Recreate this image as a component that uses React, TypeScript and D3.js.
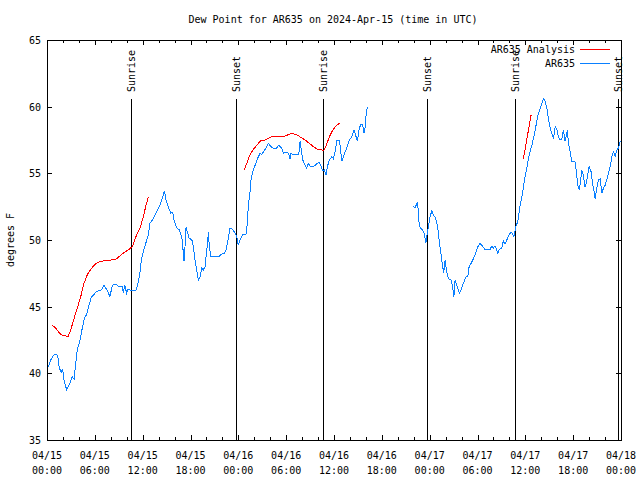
import React from "react";
import * as d3 from "d3";

const TITLE = "Dew Point for AR635 on 2024-Apr-15 (time in UTC)";
const Y_LABEL = "degrees F";
const yTicks = [35, 40, 45, 50, 55, 60, 65];
const xMajorHours = [0, 6, 12, 18, 24, 30, 36, 42, 48, 54, 60, 66, 72];
const xTickDates = ["04/15", "04/15", "04/15", "04/15", "04/16", "04/16", "04/16", "04/16", "04/17", "04/17", "04/17", "04/17", "04/18"];
const xTickTimes = ["00:00", "06:00", "12:00", "18:00", "00:00", "06:00", "12:00", "18:00", "00:00", "06:00", "12:00", "18:00", "00:00"];

const eventHours = [10.55, 23.72, 34.63, 47.72, 58.72, 71.68];
const eventLabels = ["Sunrise", "Sunset", "Sunrise", "Sunset", "Sunrise", "Sunset"];

const seriesNames = ["AR635 Analysis", "AR635"];
const seriesColors = ["#ff0000", "#0a80ff"];

// Analysis (hours since 04/15 00:00 UTC), null = gap
const anaHours = [
  0.66, 1.09, 1.51, 1.92, 2.35, 2.63, 2.97, 3.39, 3.8, 4.23, 4.64, 5.06, 5.48, 5.9, 6.31, 6.74, 7.37, 7.99, 8.62, 9.03, 9.66, 10.29, 10.7, 11.25, 11.67, 12.08, 12.42, 12.71,
  null,
  24.72, 25.06, 25.47, 25.88, 26.31, 26.81, 27.35, 27.98, 28.61, 29.23, 29.86, 30.28, 30.7, 31.33, 31.83, 32.37, 32.91, 33.41, 33.91, 34.47, 34.76, 35.09, 35.42, 35.72, 36.14, 36.68,
  null,
  59.76, 60.06, 60.39, 60.73,
];
const anaValues = [
  43.6, 43.4, 43.05, 42.85, 42.8, 42.75, 43.25, 44.1, 44.9, 45.75, 46.75, 47.4, 47.8, 48.1, 48.3, 48.4, 48.45, 48.5, 48.55, 48.75, 49.05, 49.3, 49.5, 50.4, 50.9, 51.75, 52.6, 53.2,
  null,
  55.25, 55.75, 56.4, 56.8, 57.1, 57.45, 57.5, 57.7, 57.8, 57.8, 57.8, 57.9, 58.0, 57.9, 57.7, 57.5, 57.25, 57.0, 56.8, 56.75, 56.75, 57.2, 57.75, 58.1, 58.5, 58.75,
  null,
  56.1, 57.1, 58.25, 59.4,
];

// Observations
const obsHours = [
  0.13, 0.46, 0.88, 1.22, 1.38, 1.54, 1.79, 1.97, 2.13, 2.47, 2.76, 3.17, 3.39, 3.6, 3.8, 4.14, 4.43, 4.73, 4.98, 5.27, 5.56, 5.9, 6.11, 6.52, 6.81, 7.15, 7.57, 7.9, 8.19, 8.62, 9.03, 9.45, 9.57, 9.75, 10.0, 10.16, 10.58, 11.13, 11.42, 11.67, 11.83, 12.17, 12.71, 12.92, 13.34, 13.76, 14.18, 14.52, 14.72, 14.93, 15.22, 15.52, 15.77, 15.93, 16.27, 16.6, 16.9, 17.03, 17.19, 17.31, 17.44, 17.6, 17.85, 18.16, 18.36, 18.57, 18.78, 18.98, 19.2, 19.41, 19.61, 19.82, 19.95, 20.16, 20.24, 20.36, 20.54, 21.08, 21.62, 21.92, 22.21, 22.46, 22.67, 22.96, 23.3, 23.59, 23.8, 24.0, 24.22, 24.55, 24.97, 25.13, 25.26, 25.47, 25.6, 25.81, 26.1, 26.39, 26.73, 26.94, 27.14, 27.48, 27.77, 28.07, 28.39, 28.82, 29.07, 29.45, 29.65, 29.99, 30.28, 30.49, 30.61, 30.83, 31.58, 31.74, 31.91, 32.08, 32.37, 32.58, 32.79, 33.0, 33.34, 33.63, 33.91, 34.17, 34.34, 34.59, 34.79, 35.01, 35.17, 35.42, 35.72, 35.92, 36.14, 36.35, 36.68, 36.98, 37.26, 37.6, 37.93, 38.23, 38.52, 38.77, 38.93, 39.18, 39.4, 39.61, 39.77, 39.9, 40.03, 40.19,
  null,
  45.96, 46.17, 46.39, 46.51, 46.59, 46.8, 47.09, 47.34, 47.52, 47.64, 47.84, 48.06, 48.27, 48.47, 48.77, 49.02, 49.18, 49.44, 49.6, 49.77, 49.94, 50.1, 50.35, 50.69, 50.9, 51.03, 51.19, 51.4, 51.61, 51.73, 51.94, 52.23, 52.53, 52.79, 52.95, 53.2, 53.49, 53.79, 54.04, 54.33, 54.62, 54.96, 55.3, 55.58, 55.8, 56.0, 56.21, 56.42, 56.55, 56.75, 57.05, 57.25, 57.47, 57.68, 57.97, 58.22, 58.38, 58.56, 58.81, 59.06, 59.35, 59.64, 59.89, 60.19, 60.48, 60.82, 61.15, 61.44, 61.64, 61.9, 62.15, 62.32, 62.48, 62.7, 62.9, 63.11, 63.32, 63.53, 63.74, 63.95, 64.15, 64.37, 64.58, 64.78, 64.99, 65.28, 65.41, 65.62, 65.83, 66.25, 66.37, 66.59, 66.79, 67.09, 67.29, 67.5, 67.72, 68.0, 68.26, 68.42, 68.63, 68.76, 68.97, 69.17, 69.39, 69.6, 69.8, 70.01, 70.35, 70.64, 70.85, 71.05, 71.27, 71.48, 71.68, 71.89,
];
const obsValues = [
  40.45, 41.0, 41.4, 41.4, 41.15, 40.4, 40.1, 40.3, 39.5, 38.75, 39.1, 39.75, 39.55, 40.75, 41.75, 42.5, 43.4, 44.2, 44.4, 45.1, 45.7, 45.9, 46.1, 46.2, 46.25, 46.6, 46.2, 45.75, 46.6, 46.7, 46.5, 46.5, 46.05, 46.6, 46.0, 46.3, 46.2, 46.2, 46.75, 47.6, 48.5, 49.3, 50.4, 51.25, 51.6, 52.1, 52.6, 53.25, 53.7, 53.0, 52.5, 52.0, 52.1, 51.5, 50.9, 50.75, 50.25, 49.5, 48.4, 49.5, 50.95, 50.6, 50.1, 50.05, 49.5, 48.5, 47.75, 47.0, 47.25, 47.9, 47.75, 48.0, 48.75, 49.9, 50.6, 49.5, 48.8, 48.8, 48.8, 48.95, 49.0, 49.25, 49.9, 50.9, 50.8, 50.5, 50.25, 49.6, 50.0, 50.4, 50.45, 51.3, 52.6, 53.6, 54.6, 55.1, 55.6, 56.1, 56.5, 56.4, 56.6, 56.9, 57.25, 57.0, 56.9, 56.9, 57.1, 56.9, 56.5, 56.6, 56.5, 56.1, 56.5, 56.4, 56.4, 57.4, 56.75, 56.0, 55.6, 55.4, 55.75, 55.55, 55.5, 55.6, 55.75, 55.8, 55.6, 55.2, 55.25, 54.9, 55.5, 56.0, 56.25, 56.1, 56.6, 57.5, 57.5, 55.9, 56.4, 56.9, 57.5, 57.75, 58.25, 57.75, 57.4, 58.4, 58.7, 58.6, 58.0, 58.4, 59.4, 60.0,
  null,
  52.55, 52.4, 52.75, 52.8, 51.6, 50.95, 50.75, 50.5, 49.75, 50.25, 51.0, 51.75, 52.2, 51.9, 51.6, 50.9, 50.0, 48.9, 48.1, 47.55, 48.5, 47.75, 47.1, 47.0, 46.4, 45.7, 47.0, 46.6, 46.25, 46.0, 46.25, 46.75, 47.2, 47.3, 48.0, 48.25, 48.6, 49.05, 49.5, 49.75, 49.55, 49.25, 49.3, 49.3, 49.55, 49.4, 49.55, 49.25, 49.0, 49.3, 49.4, 49.95, 49.7, 50.0, 50.4, 50.6, 50.5, 50.25, 51.0, 51.4, 52.6, 53.5, 54.5, 55.4, 56.4, 57.1, 58.0, 58.9, 59.5, 59.9, 60.4, 60.6, 60.4, 59.9, 59.1, 58.4, 58.0, 57.6, 58.5, 58.3, 57.75, 57.5, 57.6, 58.25, 57.4, 58.25, 57.25, 56.6, 55.9, 55.85, 55.25, 54.1, 53.75, 55.25, 54.8, 53.95, 54.5, 55.5, 55.1, 54.25, 53.6, 53.1, 53.9, 54.5, 54.6, 53.5, 53.9, 54.1, 54.8, 55.5, 56.25, 56.6, 56.3, 56.75, 56.9, 57.4,
];

const FONT = "'DejaVu Sans Mono', monospace";
const W = 640;
const H = 480;
const M = { left: 47, right: 621, top: 40, bottom: 440 };

export default function App() {
  const x = d3.scaleLinear().domain([0, 72]).range([M.left, M.right]);
  const y = d3.scaleLinear().domain([35, 65]).range([M.bottom, M.top]);

  const mkPts = (hs: (number | null)[], vs: (number | null)[]) =>
    hs.map((h, i) => [h, vs[i]] as [number | null, number | null]);
  const line = d3
    .line<[number | null, number | null]>()
    .defined((d) => d[0] !== null && d[1] !== null)
    .x((d) => x(d[0] as number))
    .y((d) => y(d[1] as number));

  const minorHours = d3.range(0, 73, 2).filter((h) => h % 6 !== 0);

  return (
    <svg
      width={W}
      height={H}
      style={{ position: "absolute", left: 0, top: 0, background: "#fff" }}
      fontFamily={FONT}
      fontSize={10}
    >
      <rect x={0} y={0} width={W} height={H} fill="#fff" />
      <text x={333} y={23} textAnchor="middle" fill="#000">
        {TITLE}
      </text>

      {/* event lines */}
      {eventHours.map((h, i) => (
        <g key={"ev" + i}>
          <line x1={Math.round(x(h)) + 0.5} x2={Math.round(x(h)) + 0.5} y1={99} y2={M.bottom} stroke="#000" strokeWidth={1} shapeRendering="crispEdges" />
          <text transform={`translate(${Math.round(x(h)) + 4},92) rotate(-90)`} textAnchor="start" fill="#000">
            {eventLabels[i]}
          </text>
        </g>
      ))}

      {/* series */}
      <path d={line(mkPts(anaHours, anaValues)) || ""} fill="none" stroke={seriesColors[0]} strokeWidth={1} shapeRendering="crispEdges" />
      <path d={line(mkPts(obsHours, obsValues)) || ""} fill="none" stroke={seriesColors[1]} strokeWidth={1} shapeRendering="crispEdges" />

      {/* frame */}
      <rect x={M.left + 0.5} y={M.top + 0.5} width={M.right - M.left} height={M.bottom - M.top} fill="none" stroke="#000" strokeWidth={1} shapeRendering="crispEdges" />

      {/* x ticks */}
      {xMajorHours.map((h, i) => {
        const px = Math.round(x(h)) + 0.5;
        return (
          <g key={"xt" + i}>
            <line x1={px} x2={px} y1={M.bottom} y2={M.bottom - 5} stroke="#000" shapeRendering="crispEdges" />
            <line x1={px} x2={px} y1={M.top} y2={M.top + 5} stroke="#000" shapeRendering="crispEdges" />
            <text x={x(h)} y={459} textAnchor="middle" fill="#000">{xTickDates[i]}</text>
            <text x={x(h)} y={474} textAnchor="middle" fill="#000">{xTickTimes[i]}</text>
          </g>
        );
      })}
      {minorHours.map((h, i) => {
        const px = Math.round(x(h)) + 0.5;
        return (
          <g key={"xm" + i}>
            <line x1={px} x2={px} y1={M.bottom} y2={M.bottom - 3} stroke="#000" shapeRendering="crispEdges" />
            <line x1={px} x2={px} y1={M.top} y2={M.top + 3} stroke="#000" shapeRendering="crispEdges" />
          </g>
        );
      })}

      {/* y ticks */}
      {yTicks.map((v, i) => {
        const py = Math.round(y(v)) + 0.5;
        return (
          <g key={"yt" + i}>
            <line x1={M.left} x2={M.left + 5} y1={py} y2={py} stroke="#000" shapeRendering="crispEdges" />
            <line x1={M.right} x2={M.right - 5} y1={py} y2={py} stroke="#000" shapeRendering="crispEdges" />
            <text x={41} y={y(v) + 4} textAnchor="end" fill="#000">{v}</text>
          </g>
        );
      })}

      <text transform={`translate(14,240) rotate(-90)`} textAnchor="middle" fill="#000">
        {Y_LABEL}
      </text>

      {/* legend */}
      {seriesNames.map((n, i) => (
        <g key={"lg" + i}>
          <text x={575} y={53 + i * 14} textAnchor="end" fill="#000">{n}</text>
          <line x1={580} x2={610} y1={49.5 + i * 14} y2={49.5 + i * 14} stroke={seriesColors[i]} shapeRendering="crispEdges" />
        </g>
      ))}
    </svg>
  );
}
